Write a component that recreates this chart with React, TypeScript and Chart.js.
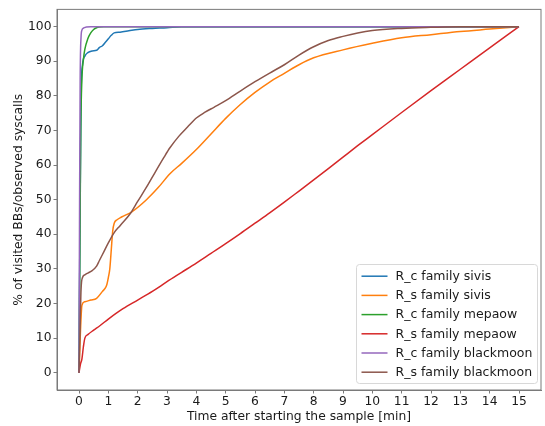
import React, { useEffect, useRef } from "react";
import { Chart, registerables } from "chart.js";

Chart.register(...registerables);

const xTicks = [0, 1, 2, 3, 4, 5, 6, 7, 8, 9, 10, 11, 12, 13, 14, 15];
const yTicks = [0, 10, 20, 30, 40, 50, 60, 70, 80, 90, 100];

const xTitle = "Time after starting the sample [min]";
const yTitle = "% of visited BBs/observed syscalls";

const seriesLabels = [
  "R_c family sivis",
  "R_s family sivis",
  "R_c family mepaow",
  "R_s family mepaow",
  "R_c family blackmoon",
  "R_s family blackmoon",
];
const seriesColors = ["#1f77b4", "#ff7f0e", "#2ca02c", "#d62728", "#9467bd", "#8c564b"];

const sivisRcX = [0, 0.03, 0.07, 0.12, 0.2, 0.3, 0.45, 0.6, 0.7, 0.8, 0.9, 1.0, 1.1, 1.2, 1.4, 1.7, 2.0, 2.5, 3.0, 3.5, 15];
const sivisRcY = [0, 40, 80, 89, 91.5, 92.5, 93, 93.2, 94, 94.5, 95.5, 96.5, 97.5, 98.2, 98.4, 98.8, 99.2, 99.5, 99.7, 100, 100];

const sivisRsX = [0, 0.05, 0.1, 0.2, 0.4, 0.6, 0.8, 0.9, 0.95, 1.0, 1.05, 1.1, 1.15, 1.2, 1.3, 1.45, 1.8, 2.3, 2.7, 3.1, 3.5, 4.0, 4.5, 5.0, 5.5, 6.0, 6.5, 7.0, 7.5, 8.0, 9.0, 10.0, 11.0, 12.0, 13.0, 14.0, 15.0];
const sivisRsY = [0, 12, 19.5, 20.5, 21, 21.5, 23.5, 24.5, 25.5, 27.5, 30, 35.5, 41, 43.2, 44.2, 45, 46.5, 50, 53.5, 57.5, 60.5, 64.5, 69, 73.5, 77.5, 81, 84, 86.5, 89, 91, 93.3, 95.2, 96.8, 97.7, 98.6, 99.3, 100];

const mepaowRcX = [0, 0.03, 0.06, 0.1, 0.15, 0.2, 0.3, 0.4, 0.5, 0.6, 0.7, 0.85, 15];
const mepaowRcY = [0, 35, 70, 85, 90.5, 93.5, 96.5, 98.2, 99.2, 99.7, 99.9, 100, 100];

const mepaowRsX = [0, 0.05, 0.1, 0.15, 0.2, 0.3, 0.5, 0.7, 1.0, 1.5, 2.0, 2.5, 3.0, 3.5, 4.0, 4.5, 5.0, 5.5, 6.0, 6.5, 7.0, 7.5, 8.0, 8.5, 9.0, 9.5, 10.0, 11.0, 12.0, 13.0, 14.0, 15.0];
const mepaowRsY = [0, 2.5, 4, 7.5, 10, 11, 12.3, 13.5, 15.5, 18.5, 21, 23.5, 26.3, 29, 31.7, 34.5, 37.3, 40.2, 43.2, 46.2, 49.3, 52.5, 55.7, 59, 62.3, 65.6, 68.8, 75.2, 81.5, 87.7, 93.9, 100];

const blackmoonRcX = [0, 0.02, 0.04, 0.07, 0.1, 0.15, 0.25, 0.4, 15];
const blackmoonRcY = [0, 50, 85, 97, 99, 99.6, 99.9, 100, 100];

const blackmoonRsX = [0, 0.03, 0.07, 0.12, 0.2, 0.3, 0.45, 0.6, 0.7, 0.85, 1.0, 1.2, 1.4, 1.75, 2.0, 2.3, 2.6, 2.9, 3.1, 3.4, 3.7, 4.0, 4.3, 4.6, 5.0, 5.5, 6.0, 6.5, 7.0, 7.5, 8.0, 8.5, 9.0, 9.5, 10.0, 11.0, 12.0, 13.0, 15.0];
const blackmoonRsY = [0, 10, 24, 27.5, 28.3, 28.8, 29.5, 30.8, 32.5, 35, 37.5, 40.5, 42.5, 46, 49.5, 53.6, 58, 62.3, 65, 68.3, 71, 73.6, 75.3, 76.7, 78.6, 81.4, 84.1, 86.6, 89, 91.8, 94.2, 96, 97.2, 98.2, 98.9, 99.5, 99.8, 100, 100];

const seriesX = [sivisRcX, sivisRsX, mepaowRcX, mepaowRsX, blackmoonRcX, blackmoonRsX];
const seriesY = [sivisRcY, sivisRsY, mepaowRcY, mepaowRsY, blackmoonRcY, blackmoonRsY];

const FONT = "DejaVu Sans";
const TEXT = "#1a1a1a";
const AXIS = "#7a7a7a";
const FS = 12.3;

const framePlugin = {
  id: "frame",
  afterDraw(chart: any) {
    const { ctx, chartArea: ca } = chart;
    ctx.save();
    ctx.strokeStyle = AXIS;
    ctx.lineWidth = 1;
    ctx.strokeRect(ca.left, ca.top, ca.right - ca.left, ca.bottom - ca.top);

    // legend
    const right = ca.right - 3.5;
    const bottom = ca.bottom - 6.5;
    ctx.font = `12.5px "${FONT}"`;
    const labels = chart.data.datasets.map((d: any) => d.label);
    const maxW = Math.max(...labels.map((l: string) => ctx.measureText(l).width));
    const w = Math.max(181, maxW + 44);
    const h = 119;
    const left = right - w;
    const top = bottom - h;
    const r = 3;
    ctx.beginPath();
    ctx.moveTo(left + r, top);
    ctx.lineTo(right - r, top);
    ctx.quadraticCurveTo(right, top, right, top + r);
    ctx.lineTo(right, bottom - r);
    ctx.quadraticCurveTo(right, bottom, right - r, bottom);
    ctx.lineTo(left + r, bottom);
    ctx.quadraticCurveTo(left, bottom, left, bottom - r);
    ctx.lineTo(left, top + r);
    ctx.quadraticCurveTo(left, top, left + r, top);
    ctx.closePath();
    ctx.fillStyle = "rgba(255,255,255,0.8)";
    ctx.fill();
    ctx.strokeStyle = "#d8d8d8";
    ctx.lineWidth = 1;
    ctx.stroke();

    ctx.textBaseline = "middle";
    ctx.textAlign = "left";
    chart.data.datasets.forEach((d: any, i: number) => {
      const y = top + 11.7 + i * 19.2;
      ctx.strokeStyle = d.borderColor;
      ctx.lineWidth = 1.5;
      ctx.beginPath();
      ctx.moveTo(left + 5, y);
      ctx.lineTo(left + 31, y);
      ctx.stroke();
      ctx.fillStyle = TEXT;
      ctx.fillText(d.label, left + 39, y + 0.5);
    });
    ctx.restore();
  },
};

export default function App() {
  const ref = useRef<HTMLCanvasElement>(null);
  useEffect(() => {
    document.body.style.margin = "0";
    const datasets = seriesLabels.map((label, i) => ({
      label,
      data: seriesX[i].map((x, j) => ({ x, y: seriesY[i][j] })),
      borderColor: seriesColors[i],
      backgroundColor: seriesColors[i],
      borderWidth: 1.5,
      pointRadius: 0,
      fill: false,
      cubicInterpolationMode: "monotone" as const,
      order: -i,
    }));
    const chart = new Chart(ref.current!, {
      type: "line",
      data: { datasets },
      plugins: [framePlugin],
      options: {
        animation: false,
        responsive: true,
        maintainAspectRatio: false,
        layout: { padding: { left: 0, right: 4, top: 3, bottom: 0 } },
        plugins: { legend: { display: false }, tooltip: { enabled: false } },
        scales: {
          x: {
            type: "linear",
            min: -0.75,
            max: 15.75,
            afterBuildTicks: (s: any) => {
              s.ticks = xTicks.map((v) => ({ value: v }));
            },
            afterFit: (s: any) => {
              s.height = 36;
            },
            ticks: {
              font: { family: FONT, size: FS },
              color: TEXT,
              padding: 1,
              maxRotation: 0,
              autoSkip: false,
            },
            grid: { drawOnChartArea: false, drawTicks: true, tickLength: 3.5, color: AXIS },
            border: { display: true, color: AXIS },
            title: {
              display: true,
              text: xTitle,
              font: { family: FONT, size: FS },
              color: TEXT,
              padding: { top: 0, bottom: 1.5 },
            },
          },
          y: {
            type: "linear",
            min: -5,
            max: 105,
            afterBuildTicks: (s: any) => {
              s.ticks = yTicks.map((v) => ({ value: v }));
            },
            afterFit: (s: any) => {
              s.width = 57;
            },
            ticks: {
              font: { family: FONT, size: FS },
              color: TEXT,
              padding: 2,
              autoSkip: false,
            },
            grid: { drawOnChartArea: false, drawTicks: true, tickLength: 3.5, color: AXIS },
            border: { display: true, color: AXIS },
            title: {
              display: true,
              text: yTitle,
              font: { family: FONT, size: FS },
              color: TEXT,
              padding: { top: 11.5, bottom: 0 },
            },
          },
        },
      },
    });
    return () => chart.destroy();
  }, []);
  return (
    <div style={{ width: 545, height: 426, position: "relative" }}>
      <canvas ref={ref} />
    </div>
  );
}
